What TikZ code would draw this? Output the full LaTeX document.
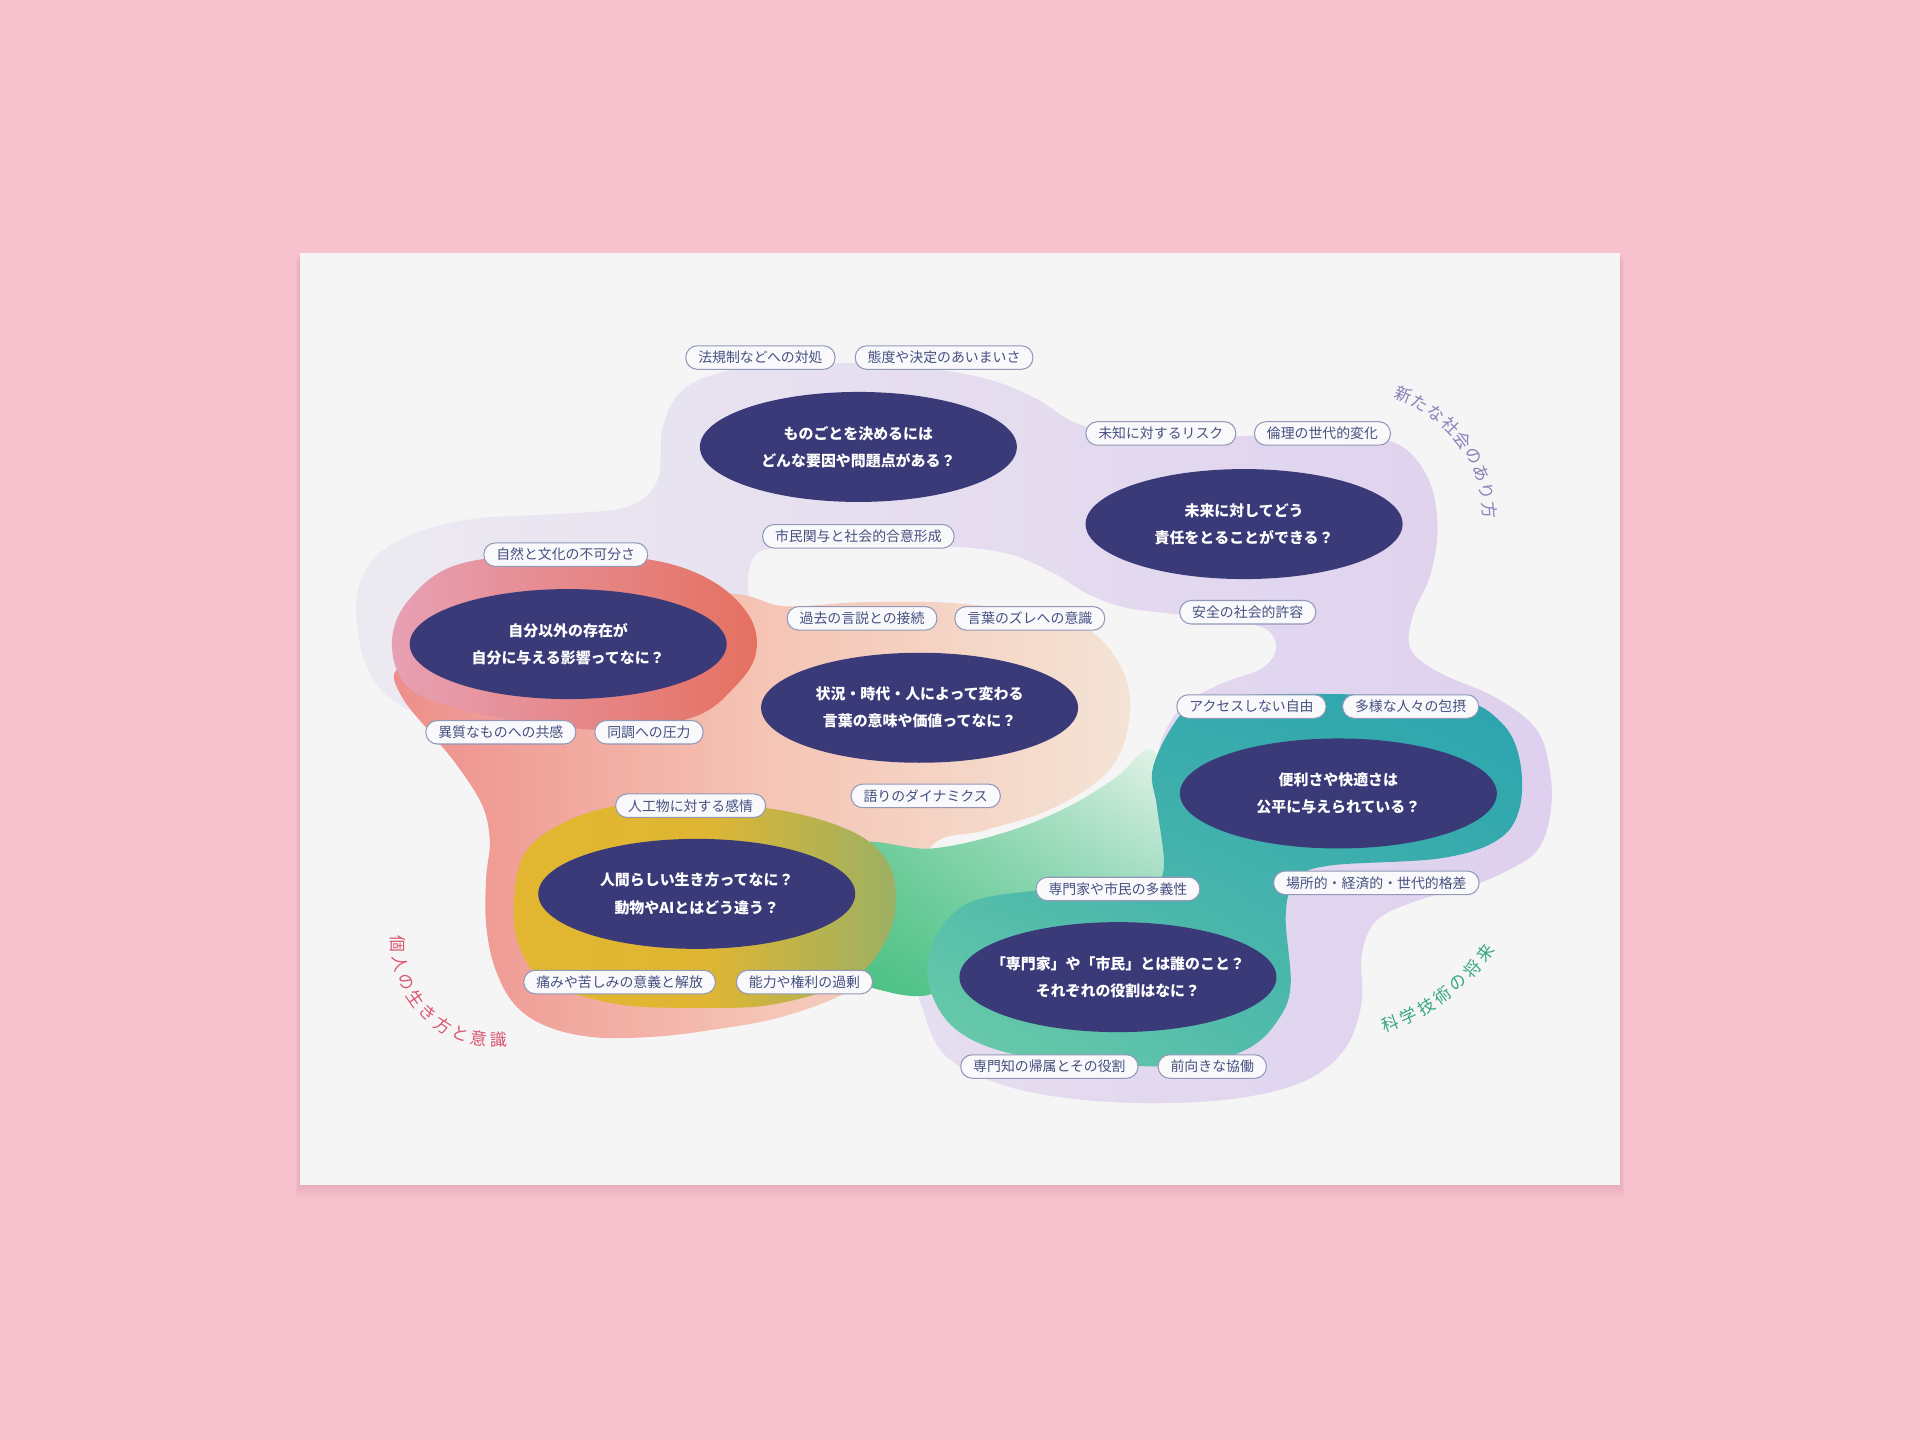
\documentclass[tikz,border=0pt]{standalone}
\usepackage{fontspec}
\setmainfont{Noto Sans CJK JP}
\usetikzlibrary{shapes.geometric, shadings}
\definecolor{cBg}{RGB}{248,193,206}
\definecolor{cCard}{RGB}{246,245,246}
\definecolor{cShade}{RGB}{214,150,166}
\definecolor{cNavy}{RGB}{58,58,120}
\definecolor{cKey}{RGB}{70,80,128}
\definecolor{cRim}{RGB}{146,152,184}
\definecolor{cPill}{RGB}{249,249,251}
\definecolor{cGrey}{RGB}{236,234,241}
\definecolor{cLav}{RGB}{222,208,238}
\definecolor{cCoral}{RGB}{238,142,139}
\definecolor{cPeach}{RGB}{245,196,180}
\definecolor{cCream}{RGB}{244,228,214}
\definecolor{cRose}{RGB}{231,160,180}
\definecolor{cRed}{RGB}{229,112,96}
\definecolor{cMustard}{RGB}{226,182,48}
\definecolor{cOlive}{RGB}{156,176,100}
\definecolor{cGreen}{RGB}{72,192,128}
\definecolor{cMint}{RGB}{236,245,237}
\definecolor{cTeal}{RGB}{44,164,174}
\definecolor{cAqua}{RGB}{110,205,168}
\definecolor{cPurple}{RGB}{140,126,184}
\definecolor{cPink}{RGB}{217,84,112}
\definecolor{cJade}{RGB}{52,166,126}

\begin{document}
\begin{tikzpicture}[x=0.12245mm, y=-0.12245mm,
    question/.style={ellipse, fill=cNavy, inner sep=0pt,
        minimum width=31.7mm, minimum height=11mm},
    qtext/.style={text=white, inner sep=0pt, align=center,
        font=\bfseries\fontsize{4.25}{7.7}\selectfont},
    keyword/.style={rectangle, rounded corners=1.15mm, draw=cRim, line width=0.3pt,
        fill=cPill, text=cKey, inner xsep=1.25mm, inner ysep=0pt, minimum height=2.35mm,
        font=\fontsize{3.95}{4.5}\selectfont},
    arcchar/.style={inner sep=0pt, font=\fontsize{4.8}{5.6}\selectfont}]

    % Background and card
    \useasboundingbox (0,0) rectangle (1568,1176);
    \fill[cBg] (0,0) rectangle (1568,1176);
    \foreach \d in {1,...,8}
        \fill[cShade, opacity=0.05] (245-0.5*\d,207+0.5*\d) rectangle (1323+0.5*\d,968+1.2*\d);
    \fill[cCard] (245,207) rectangle (1323,968);

    % Blobs
    \shade[left color=cGrey, right color=cLav] plot[smooth cycle, tension=0.6] coordinates {
        (291,505) (299,465) (330,439) (385,424) (450,420) (512,414) (537,392) (541,350)
        (556,320) (590,304) (650,297) (730,298) (800,308) (845,325) (880,346) (930,356)
        (1010,356) (1090,355) (1140,362) (1166,390) (1174,430) (1168,470) (1154,502)
        (1152,530) (1175,549) (1222,570) (1255,596) (1266,631) (1266,666) (1255,695)
        (1229,712) (1200,724) (1156,736) (1124,752) (1112,780) (1112,819) (1098,857)
        (1065,883) (1010,897) (937,901) (865,896) (810,883) (770,860) (752,820) (740,780)
        (690,730) (600,660) (450,620) (345,585) (305,555)};
    \fill[cCard] plot[smooth cycle, tension=0.6] coordinates {
        (614,458) (640,446) (700,444) (770,446) (822,452) (860,468) (888,485) (918,496)
        (954,501) (1005,507) (1034,514) (1042,530) (1030,546) (998,558) (966,576)
        (948,606) (944,640) (940,690) (900,715) (820,715) (760,700) (690,650) (640,560)
        (614,500)};
    \shade[left color=cCoral, right color=cCream, middle color=cPeach]
        plot[smooth cycle, tension=0.6] coordinates {
        (340,540) (400,500) (500,480) (600,485) (640,495) (700,492) (770,492) (840,500)
        (890,515) (918,550) (922,590) (905,630) (860,660) (805,678) (760,692) (740,760)
        (700,805) (640,830) (575,842) (529,847) (484,847) (446,838) (420,820) (404,790)
        (397,755) (397,717) (400,687) (394,658) (374,626) (352,599) (330,572) (322,550)};
    \shade[left color=cRose, right color=cRed] plot[smooth cycle, tension=0.6] coordinates {
        (320,526) (333,491) (374,461) (458,452) (536,458) (584,476) (613,505) (617,535)
        (600,561) (568,585) (504,596) (439,591) (375,579) (333,561)};
    \shade[upper left=cGreen!70!cMint, upper right=cMint, lower left=cGreen, lower right=cAqua]
        plot[smooth cycle, tension=0.6] coordinates {
        (700,690) (760,693) (820,680) (870,660) (910,636) (940,612) (955,650) (955,715)
        (900,735) (820,760) (780,790) (760,812) (725,810) (698,795) (690,740)};
    \shade[left color=cMustard, right color=cOlive, middle color=cMustard!95!cOlive]
        plot[smooth cycle, tension=0.6] coordinates {
        (420,731) (429,696) (458,673) (504,658) (568,655) (633,661) (681,673) (713,690)
        (730,717) (727,760) (697,799) (633,820) (568,823) (504,820) (446,802) (423,770)};
    \shade[upper left=cTeal!80!cAqua, upper right=cTeal, lower left=cAqua, lower right=cTeal!70!cAqua]
        plot[smooth cycle, tension=0.6] coordinates {
        (974,576) (1010,568) (1100,567) (1190,571) (1226,590) (1241,620) (1241,660)
        (1223,686) (1176,701) (1085,707) (1058,719) (1050,748) (1054,805) (1043,834)
        (1018,857) (970,870) (901,869) (828,861) (781,841) (759,806) (762,770) (790,738)
        (850,727) (930,723) (950,712) (945,660) (941,630) (955,597)};

    % Questions
    \node[question] (qDecide) at (701,365) {};
    \node[question] (qFuture) at (1016,428) {};
    \node[question] (qOther) at (464,526) {};
    \node[question] (qWords) at (751,578) {};
    \node[question] (qFair) at (1093,648) {};
    \node[question] (qHuman) at (569,730) {};
    \node[question] (qRoles) at (913,798) {};
    \node[qtext] (qDecideT) at (qDecide) {ものごとを決めるには\\どんな要因や問題点がある？};
    \node[qtext] (qFutureT) at (qFuture) {未来に対してどう\\責任をとることができる？};
    \node[qtext] (qOtherT) at (qOther) {自分以外の存在が\\自分に与える影響ってなに？};
    \node[qtext] (qWordsT) at (qWords) {状況・時代・人によって変わる\\言葉の意味や価値ってなに？};
    \node[qtext] (qFairT) at (qFair) {便利さや快適さは\\公平に与えられている？};
    \node[qtext] (qHumanT) at (qHuman) {人間らしい生き方ってなに？\\動物やAIとはどう違う？};
    \node[qtext] (qRolesT) at (qRoles) {「専門家」や「市民」とは誰のこと？\\それぞれの役割はなに？};

    % Keywords
    \node[keyword] (kLaw) at (621,292) {法規制などへの対処};
    \node[keyword] (kVague) at (771,292) {態度や決定のあいまいさ};
    \node[keyword] (kCitizen) at (701,438) {市民関与と社会的合意形成};
    \node[keyword] (kRisk) at (948,354) {未知に対するリスク};
    \node[keyword] (kEthics) at (1080,354) {倫理の世代的変化};
    \node[keyword] (kSafety) at (1019,500) {安全の社会的許容};
    \node[keyword] (kNature) at (462,453) {自然と文化の不可分さ};
    \node[keyword] (kPast) at (704,505) {過去の言説との接続};
    \node[keyword] (kGap) at (841,505) {言葉のズレへの意識};
    \node[keyword] (kEmpathy) at (409,598) {異質なものへの共感};
    \node[keyword] (kConform) at (530,598) {同調への圧力};
    \node[keyword] (kNarr) at (756,650) {語りのダイナミクス};
    \node[keyword] (kAccess) at (1022,577) {アクセスしない自由};
    \node[keyword] (kDiverse) at (1152,577) {多様な人々の包摂};
    \node[keyword] (kArtifact) at (564,658) {人工物に対する感情};
    \node[keyword] (kDisparity) at (1124,721) {場所的・経済的・世代的格差};
    \node[keyword] (kPlural) at (913,726) {専門家や市民の多義性};
    \node[keyword] (kPain) at (506,802) {痛みや苦しみの意義と解放};
    \node[keyword] (kExcess) at (657,802) {能力や権利の過剰};
    \node[keyword] (kExpert) at (857,871) {専門知の帰属とその役割};
    \node[keyword] (kCollab) at (990,871) {前向きな協働};

    % Arc titles
    \coordinate (nsC) at (1105.6,426.7);
    \foreach \ch [count=\i from 0] in {新,た,な,社,会,の,あ,り,方} {
        \pgfmathsetmacro\ang{-68.8+7.95*\i}
        \pgfmathsetmacro\rot{-(\ang)-90}
        \node[arcchar, text=cPurple, rotate=\rot] (ns\i) at ([shift={(\ang:111.7)}]nsC) {\ch};
    }
    \coordinate (kjC) at (403.9,770.8);
    \foreach \ch [count=\i from 0] in {個,人,の,生,き,方,と,意,識} {
        \pgfmathsetmacro\ang{180-11.54*\i}
        \pgfmathsetmacro\rot{90-(\ang)}
        \node[arcchar, text=cPink, rotate=\rot] (kj\i) at ([shift={(\ang:78.6)}]kjC) {\ch};
    }
    \coordinate (kgC) at (1079,678);
    \foreach \ch [count=\i from 0] in {科,学,技,術,の,将,来} {
        \pgfmathsetmacro\ang{70.4-5.58*\i}
        \pgfmathsetmacro\rot{90-(\ang)}
        \node[arcchar, text=cJade, rotate=\rot] (kg\i) at ([shift={(\ang:167.4)}]kgC) {\ch};
    }

\end{tikzpicture}
\end{document}
